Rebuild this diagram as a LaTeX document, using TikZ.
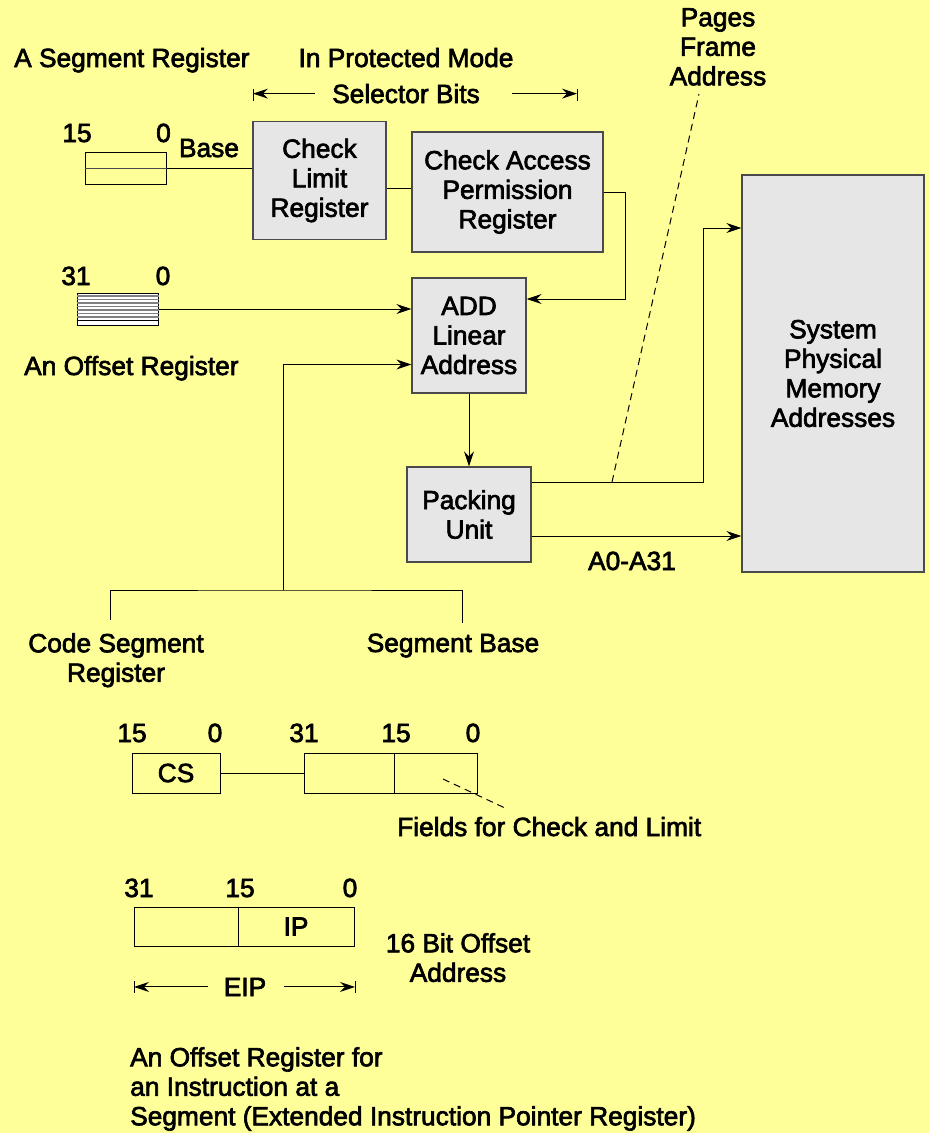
\documentclass[tikz,border=0pt]{standalone}
\usepackage{fontspec}
\setmainfont{Liberation Sans}[FakeBold=2.5]
\usetikzlibrary{positioning,arrows.meta,calc}
\definecolor{pmBack}{HTML}{FFFF99}
\definecolor{pmBox}{HTML}{E6E6E6}
\definecolor{pmEdge}{HTML}{4A4A4A}
\definecolor{pmHatch}{HTML}{808080}
\newcommand{\pmfont}{\fontsize{26.3}{29.5}\selectfont}
\tikzset{
  pm-box/.style={
    draw=pmEdge, line width=1.3pt, fill=pmBox,
    font=\pmfont, align=center, inner sep=0pt
  },
  pm-reg/.style={draw=black, line width=1pt, inner sep=0pt, font=\pmfont},
  pm-text/.style={font=\pmfont, inner sep=0pt},
  pm-line/.style={line width=1pt, draw=black},
  pm-flow/.style={-{Stealth[length=15pt,width=10pt,inset=5pt]},
    line width=1pt, draw=black},
  pm-lead/.style={line width=1pt, draw=black, dash pattern=on 7pt off 5pt}
}

\begin{document}
\begin{tikzpicture}[x=1pt, y=-1pt]
\fill[pmBack] (0,0) rectangle (929,1133);
\useasboundingbox (0,0) rectangle (929,1133);

% --- Segment register and selector ---
\node[pm-text, anchor=base west] (segtitle) at (14,67) {A Segment Register};
\node[pm-text, anchor=base] (protmode) at (406,67) {In Protected Mode};
\node[pm-text, anchor=base] (selbits) at (406,103) {Selector Bits};
\coordinate (sel-l) at (253,95);
\coordinate (sel-r) at (577,95);
\draw[pm-line] ([yshift=6pt]sel-l) -- ([yshift=-6pt]sel-l);
\draw[pm-line] ([yshift=6pt]sel-r) -- ([yshift=-6pt]sel-r);
\draw[pm-flow] ([xshift=-17pt]selbits.west) -- (selbits.west -| sel-l);
\draw[pm-flow] ([xshift=32pt]selbits.east) -- (selbits.east -| sel-r);

\node[pm-text, anchor=base] (seg-hi) at (77,142) {15};
\node[pm-text, anchor=base] (seg-lo) at (163.5,142) {0};
\node[pm-text, anchor=base] (baselbl) at (209,157) {Base};
\node[pm-reg, minimum width=81pt, minimum height=32pt] (segreg) at (125.5,168) {};
\draw[line width=1pt, draw=pmEdge] (segreg.west) -- (segreg.east);

\node[pm-box, minimum width=133pt, minimum height=118pt] (limit)
  at (319.5,180.5) {Check\\Limit\\Register};
\node[pm-box, minimum width=191pt, minimum height=120pt] (access)
  at (507.5,192) {Check Access\\Permission\\Register};

% --- Offset register ---
\node[pm-text, anchor=base] (off-hi) at (76,285) {31};
\node[pm-text, anchor=base] (off-lo) at (163,285) {0};
\node[pm-reg, fill=white, minimum width=81pt, minimum height=32pt] (offreg) at (117.5,309) {};
\foreach \dy in {3.5,7,10.5,14,17.5,21,24.5}
  \draw[pmHatch, line width=1.2pt]
    ([yshift=-\dy pt]offreg.north west) -- ([yshift=-\dy pt]offreg.north east);
\draw[line width=1pt] ([yshift=-28pt]offreg.north west) -- ([yshift=-28pt]offreg.north east);
\node[pm-text, anchor=base west] (offtitle) at (24,375) {An Offset Register};

% --- Linear address and paging ---
\node[pm-box, minimum width=114pt, minimum height=115pt] (add)
  at (469,335.5) {ADD\\Linear\\Address};
\node[pm-box, minimum width=124pt, minimum height=95pt] (pack)
  at (469,514.5) {Packing\\Unit};
\node[pm-box, minimum width=182pt, minimum height=397pt] (sysmem)
  at (833,373.5) {System\\Physical\\Memory\\Addresses};
\node[pm-text, anchor=north, align=center] (pages) at (718,8) {Pages\\Frame\\Address};
\node[pm-text, anchor=base] (abus) at (632,570) {A0-A31};

% --- Code segment bracket ---
\coordinate (csb-l) at (110,620);
\coordinate (csb-r) at (462,623);
\coordinate (csb-m) at (283,590);
\node[pm-text, anchor=north, align=center] (cslbl) at (116,633) {Code Segment\\Register};
\node[pm-text, anchor=base] (sblbl) at (453,652) {Segment Base};

% --- CS and segment base registers ---
\node[pm-text, anchor=base] (cs-hi) at (132,742) {15};
\node[pm-text, anchor=base] (cs-lo) at (215,742) {0};
\node[pm-text, anchor=base] (sb-hi) at (304,742) {31};
\node[pm-text, anchor=base] (sb-mid) at (396,742) {15};
\node[pm-text, anchor=base] (sb-lo) at (473,742) {0};
\node[pm-reg, minimum width=88pt, minimum height=40pt] (csreg) at (176,773) {CS};
\node[pm-reg, minimum width=173pt, minimum height=40pt] (basereg) at (390.5,773) {};
\draw[pm-line] ([xshift=3.5pt]basereg.north) -- ([xshift=3.5pt]basereg.south);
\coordinate (fld-a) at (443,779);
\coordinate (fld-b) at (505,808);
\node[pm-text, anchor=base west] (fldlbl) at (397,836) {Fields for Check and Limit};

% --- EIP register ---
\node[pm-text, anchor=base] (eip-hi) at (139,897) {31};
\node[pm-text, anchor=base] (eip-mid) at (240,897) {15};
\node[pm-text, anchor=base] (eip-lo) at (350,897) {0};
\node[pm-reg, minimum width=220pt, minimum height=39pt] (eipreg) at (244,926.5) {};
\draw[pm-line] ([xshift=-6pt]eipreg.north) -- ([xshift=-6pt]eipreg.south);
\node[pm-text] (iptxt) at (296,926.5) {IP};
\node[pm-text, anchor=north, align=center] (ofs16) at (458,933) {16 Bit Offset\\Address};
\node[pm-text, anchor=base] (eiptxt) at (245,996) {EIP};
\coordinate (eip-l) at (134,987);
\coordinate (eip-r) at (355,987);
\draw[pm-line] ([yshift=6pt]eip-l) -- ([yshift=-6pt]eip-l);
\draw[pm-line] ([yshift=6pt]eip-r) -- ([yshift=-6pt]eip-r);
\draw[pm-flow] ([xshift=-16pt]eiptxt.west) -- (eiptxt.west -| eip-l);
\draw[pm-flow] ([xshift=18pt]eiptxt.east) -- (eiptxt.east -| eip-r);
\node[pm-text, anchor=north west, align=left] (eipnote) at (130,1047)
  {An Offset Register for\\an Instruction at a\\Segment (Extended Instruction Pointer Register)};

% --- Connections ---
\coordinate (acc-in) at ([yshift=4pt]access.west);
\coordinate (a-out) at ([yshift=-21.5pt]pack.east);
\coordinate (tap) at (612,482);
\coordinate (pfa) at (699,94);
\draw[pm-line] (segreg.east) -- (segreg.east -| limit.west);
\draw[pm-line] (acc-in -| limit.east) -- (acc-in);
\draw[pm-flow] (access.east) -- ++(22,0) |- ([yshift=36.5pt]add.east);
\draw[pm-flow] (offreg.east) -- (offreg.east -| add.west);
\draw[pm-line] (csb-l) |- (csb-m) -| (csb-r);
\draw[pm-flow] (csb-m) |- ([yshift=-29pt]add.west);
\draw[pm-flow] (add.south) -- (add.south |- pack.north);
\draw[pm-flow] ([yshift=32.5pt]pack.east) -- ++(172,0) |- ([yshift=145.5pt]sysmem.west);
\draw[pm-flow] (a-out) -- (a-out -| sysmem.west);
\draw[pm-lead] (tap) -- (pfa);
\draw[pm-line] (csreg.east) -- (basereg.west);
\draw[pm-lead] (fld-a) -- (fld-b);
\end{tikzpicture}
\end{document}
